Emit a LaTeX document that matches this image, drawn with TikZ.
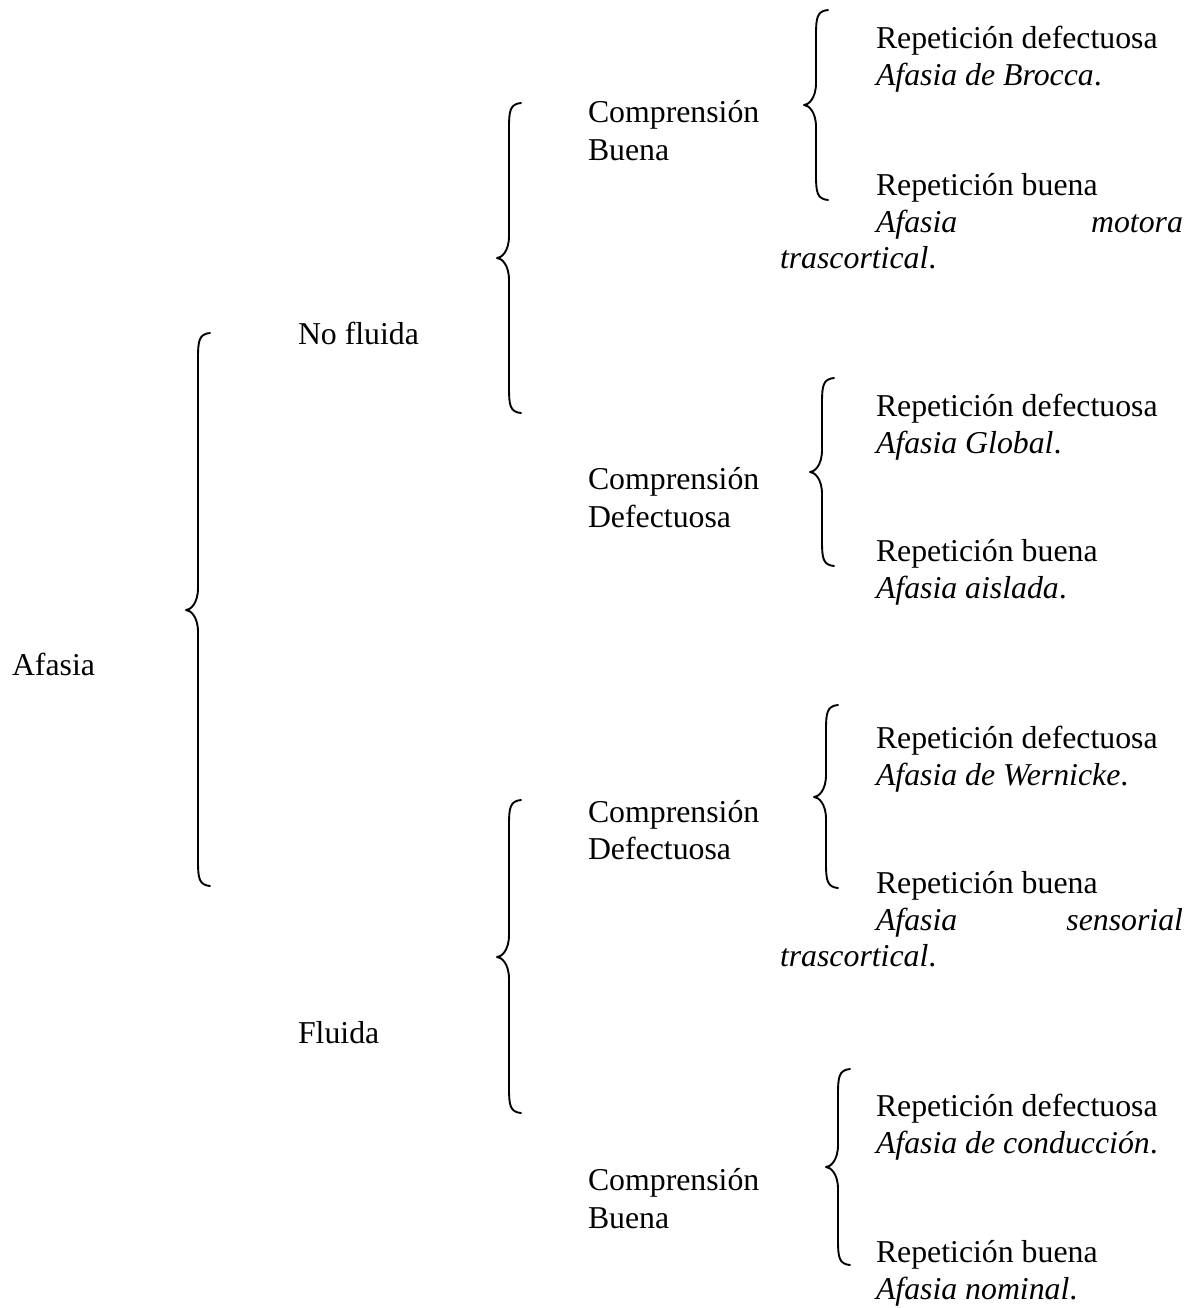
\documentclass[tikz,border=0pt]{standalone}
\usepackage{fontspec}
\setmainfont{Liberation Serif}
\newcommand{\mybrace}[4]{% #1 tip x, #2 top y, #3 tip y, #4 bottom y
  \draw[brace line] ({#1+24},#2) .. controls ({#1+13},{#2+1}) and ({#1+12},{#2+8}) .. ({#1+12},{#2+25})
    -- ({#1+12},{#3-22}) .. controls ({#1+12},{#3-6}) and ({#1+4},#3) .. (#1,#3)
    .. controls ({#1+4},#3) and ({#1+12},{#3+6}) .. ({#1+12},{#3+22})
    -- ({#1+12},{#4-25}) .. controls ({#1+12},{#4-8}) and ({#1+13},{#4-1}) .. ({#1+24},#4);}
\begin{document}
\begin{tikzpicture}[x=0.5pt,y=-0.5pt,
  lbl/.style={anchor=base west,inner sep=0pt,outer sep=0pt,font=\fontsize{15.9}{18.5}\selectfont},
  brace line/.style={line width=0.95pt,line cap=round,line join=round}]
\useasboundingbox[fill=white] (0,0) rectangle (1194,1308);

% level 0
\node[lbl] (afasia) at (12,675) {Afasia};

% level 1
\node[lbl] (nofluida) at (298,344) {No fluida};
\node[lbl] (fluida) at (298,1043) {Fluida};

% level 2
\node[lbl] (c1a) at (588,122) {Comprensión};
\node[lbl] (c1b) at (588,160) {Buena};
\node[lbl] (c2a) at (588,489) {Comprensión};
\node[lbl] (c2b) at (588,527) {Defectuosa};
\node[lbl] (c3a) at (588,822) {Comprensión};
\node[lbl] (c3b) at (588,859) {Defectuosa};
\node[lbl] (c4a) at (588,1190) {Comprensión};
\node[lbl] (c4b) at (588,1228) {Buena};

% level 3, group 1
\node[lbl] (r1a) at (876,48) {Repetición defectuosa};
\node[lbl] (r1b) at (876,85) {\textit{Afasia de Brocca}.};
\node[lbl] (r1c) at (876,195) {Repetición buena};
\node[lbl] (r1d) at (876,232) {\makebox[153.5pt][l]{\textit{Afasia}\hfill\textit{motora}}};
\node[lbl] (r1e) at (780,268) {\textit{trascortical}.};

% group 2
\node[lbl] (r2a) at (876,416) {Repetición defectuosa};
\node[lbl] (r2b) at (876,453) {\textit{Afasia Global}.};
\node[lbl] (r2c) at (876,561) {Repetición buena};
\node[lbl] (r2d) at (876,598) {\textit{Afasia aislada}.};

% group 3
\node[lbl] (r3a) at (876,748) {Repetición defectuosa};
\node[lbl] (r3b) at (876,785) {\textit{Afasia de Wernicke}.};
\node[lbl] (r3c) at (876,893) {Repetición buena};
\node[lbl] (r3d) at (876,930) {\makebox[153.5pt][l]{\textit{Afasia}\hfill\textit{sensorial}}};
\node[lbl] (r3e) at (780,966) {\textit{trascortical}.};

% group 4
\node[lbl] (r4a) at (876,1116) {Repetición defectuosa};
\node[lbl] (r4b) at (876,1153) {\textit{Afasia de conducción}.};
\node[lbl] (r4c) at (876,1262) {Repetición buena};
\node[lbl] (r4d) at (876,1299) {\textit{Afasia nominal}.};

% braces
\mybrace{186}{333}{610}{886}
\mybrace{497}{103}{258}{413}
\mybrace{497}{800}{957}{1113}
\mybrace{804}{10}{105}{200}
\mybrace{810}{378}{472}{566}
\mybrace{814}{705}{797}{888}
\mybrace{826}{1069}{1167}{1265}
\end{tikzpicture}
\end{document}
